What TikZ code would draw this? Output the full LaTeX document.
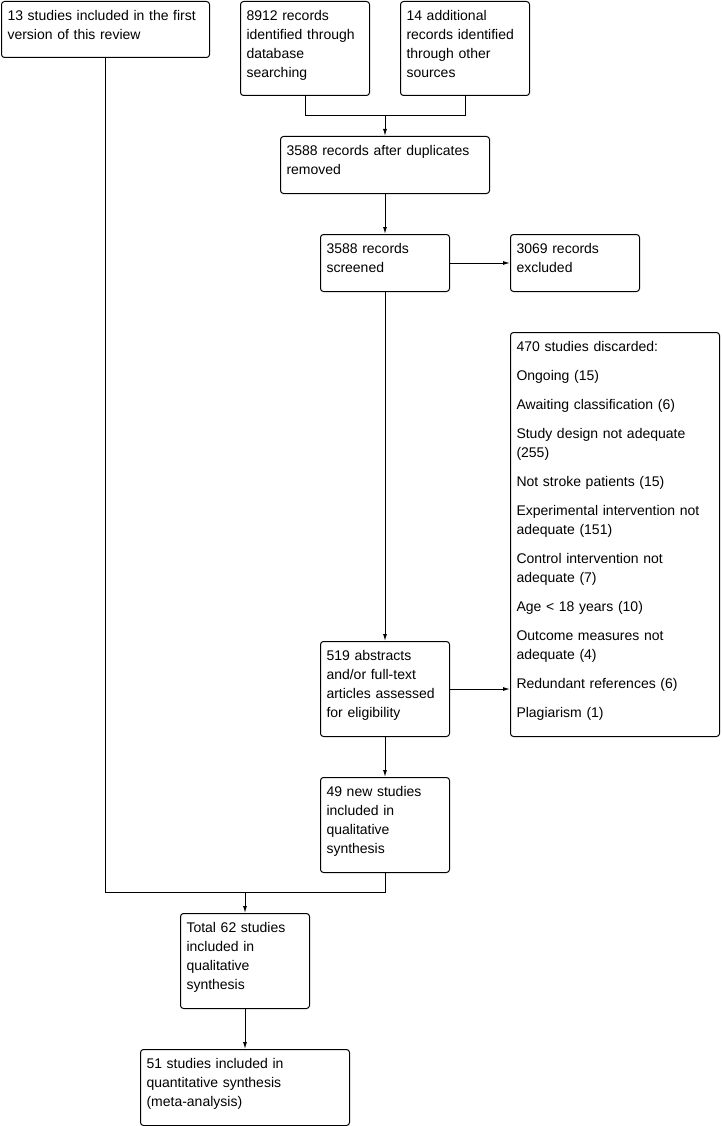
\documentclass[tikz,border=0pt]{standalone}
\usepackage{fontspec}
\setmainfont{Liberation Sans}
\usepackage{tikz}
\usetikzlibrary{arrows.meta, positioning, calc}

\tikzset{
    box/.style={draw, rounded corners=3pt, anchor=north west, align=left,
        inner xsep=6pt, inner ysep=6pt, text height=13pt,
        font=\fontsize{14}{19}\selectfont},
    narrow/.style={box, text width=117pt},
    wide/.style={box, text width=197pt},
    flow/.style={-{Latex[length=7pt, width=4pt]}},
}

\begin{document}
\begin{tikzpicture}[x=1pt, y=-1pt, line width=1pt]
    \useasboundingbox (0, 0) rectangle (721, 1126);

    % Identification
    \node[box, text width=196pt, text depth=31pt] (first) at (1, 1)
        {13 studies included in the first\\version of this review};
    \node[narrow, text depth=69pt] (db) at (240, 1)
        {8912 records\\identified through\\database\\searching};
    \node[narrow, text depth=69pt] (other) at (400, 1)
        {14 additional\\records identified\\through other\\sources};

    % Screening
    \node[wide, text depth=32pt] (dup) at (280, 136)
        {3588 records after duplicates\\removed};
    \node[narrow, text depth=32pt] (screen) at (320, 234)
        {3588 records\\screened};
    \node[narrow, text depth=32pt] (excl) at (510, 234)
        {3069 records\\excluded};

    % Eligibility
    \node[wide, text depth=379pt] (disc) at (510, 332)
        {470 studies discarded:\\[10pt]
         Ongoing (15)\\[10pt]
         Awaiting classification (6)\\[10pt]
         Study design not adequate\\(255)\\[10pt]
         Not stroke patients (15)\\[10pt]
         Experimental intervention not\\adequate (151)\\[10pt]
         Control intervention not\\adequate (7)\\[10pt]
         Age < 18 years (10)\\[10pt]
         Outcome measures not\\adequate (4)\\[10pt]
         Redundant references (6)\\[10pt]
         Plagiarism (1)};
    \node[narrow, text depth=70pt] (elig) at (320, 641)
        {519 abstracts\\and/or full-text\\articles assessed\\for eligibility};

    % Included
    \node[narrow, text depth=70pt] (newst) at (320, 777)
        {49 new studies\\included in\\qualitative\\synthesis};
    \node[narrow, text depth=70pt] (total) at (180, 913)
        {Total 62 studies\\included in\\qualitative\\synthesis};
    \node[wide, text depth=51pt] (meta) at (140, 1049)
        {51 studies included in\\quantitative synthesis\\(meta-analysis)};

    % Connectors
    \coordinate (joinA) at (385, 116);
    \draw (db.south) |- (joinA);
    \draw (other.south) |- (joinA);
    \draw[flow] (joinA) -- (dup.north);
    \draw[flow] (dup.south) -- (screen.north);
    \draw[flow] (screen.east) -- (excl.west);
    \draw[flow] (screen.south) -- (elig.north);
    \draw[flow] (elig.east) -- (elig.east -| disc.west);
    \draw[flow] (elig.south) -- (newst.north);

    \coordinate (joinB) at (245, 892);
    \draw (first.south) |- (joinB);
    \draw (newst.south) |- (joinB);
    \draw[flow] (joinB) -- (total.north);
    \draw[flow] (total.south) -- (meta.north);

\end{tikzpicture}
\end{document}
